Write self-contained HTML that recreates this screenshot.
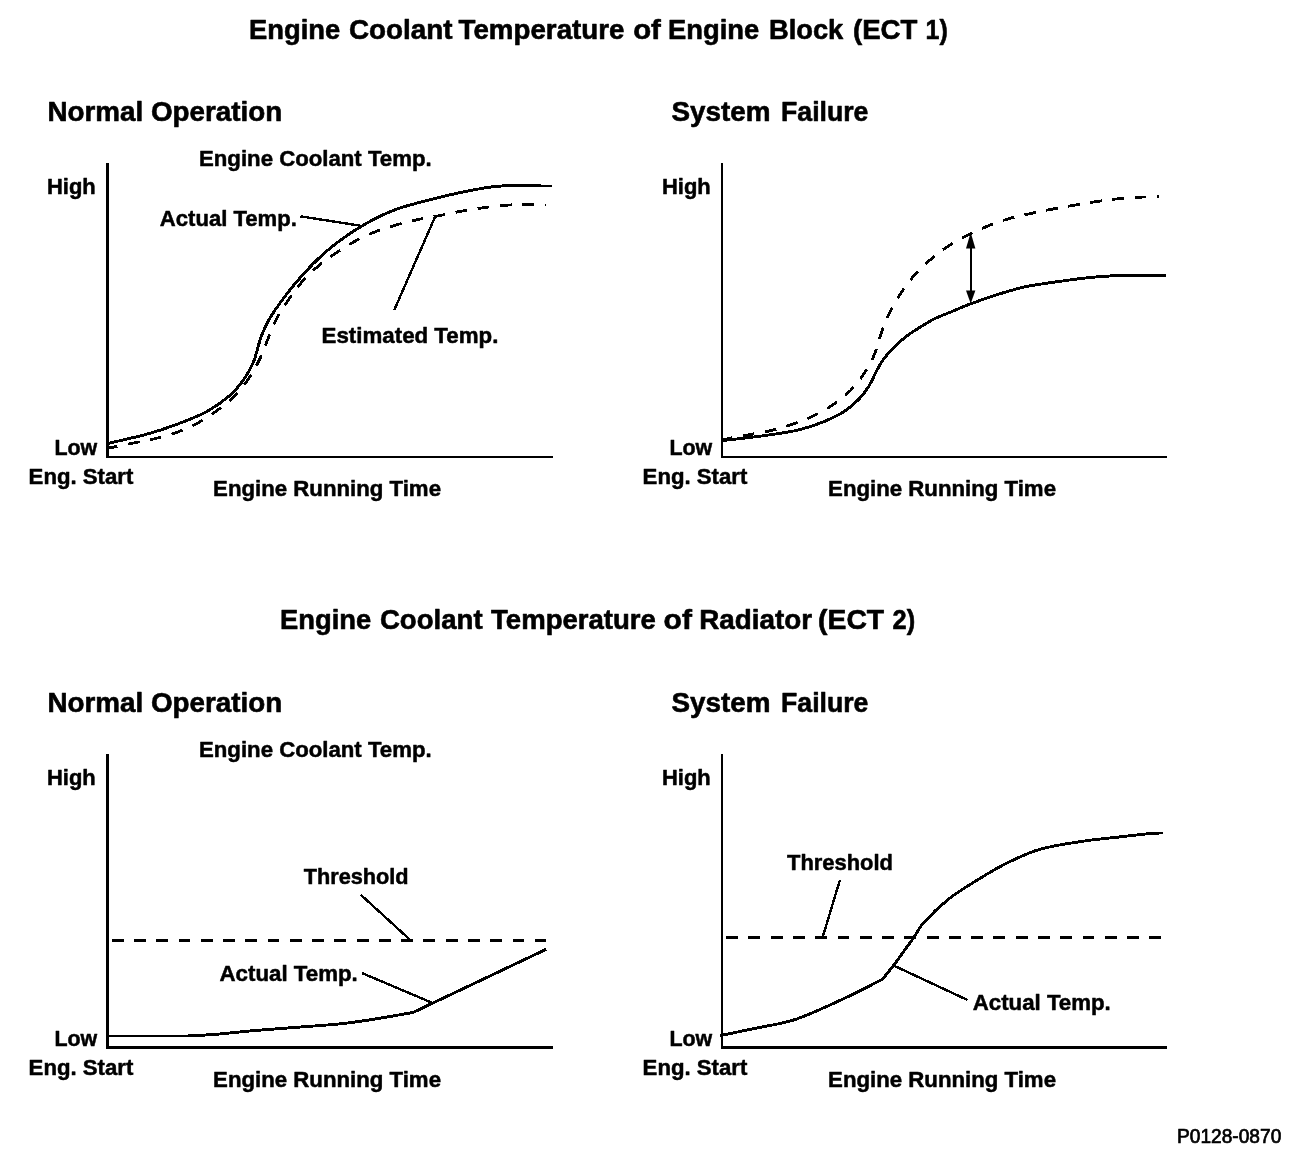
<!DOCTYPE html>
<html lang="en"><head><meta charset="utf-8"><title>Engine Coolant Temperature</title>
<style>
html,body{margin:0;padding:0;background:#fff;}
svg{display:block;}
text{font-family:"Liberation Sans",Arial,Helvetica,sans-serif;font-weight:bold;fill:#000;stroke:#000;stroke-width:0.5;stroke-linejoin:round;}
.t,.h{font-size:27px;stroke-width:0.6;}
.l{font-size:22px;}
.code{font-size:20px;font-weight:normal;stroke-width:0.7;}
.ax{stroke:#000;fill:none;shape-rendering:crispEdges;}
.cv{stroke:#000;fill:none;stroke-width:2.9;stroke-linejoin:round;shape-rendering:crispEdges;}
.dsh{stroke-width:2.8;}

.ld{stroke:#000;fill:none;stroke-width:2.4;shape-rendering:crispEdges;}
</style></head><body>
<svg width="1312" height="1156" viewBox="0 0 1312 1156">
<rect width="1312" height="1156" fill="#fff"/>
<text class="t"><tspan id="t0" x="249.0" y="38.5" textLength="91.2" lengthAdjust="spacingAndGlyphs">Engine</tspan> <tspan id="t1" x="349.0" y="38.5" textLength="103.5" lengthAdjust="spacingAndGlyphs">Coolant</tspan> <tspan id="t2" x="458.6" y="38.5" textLength="165.8" lengthAdjust="spacingAndGlyphs">Temperature</tspan> <tspan id="t3" x="633.2" y="38.5" textLength="27.7" lengthAdjust="spacingAndGlyphs">of</tspan> <tspan id="t4" x="668.0" y="38.5" textLength="91.2" lengthAdjust="spacingAndGlyphs">Engine</tspan> <tspan id="t5" x="769.0" y="38.5" textLength="74.3" lengthAdjust="spacingAndGlyphs">Block</tspan> <tspan id="t6" x="853.0" y="38.5" textLength="64.4" lengthAdjust="spacingAndGlyphs">(ECT</tspan> <tspan id="t7" x="925.6" y="38.5" textLength="22.2" lengthAdjust="spacingAndGlyphs">1)</tspan></text>
<text class="t"><tspan id="t8" x="280.0" y="629.1" textLength="91.2" lengthAdjust="spacingAndGlyphs">Engine</tspan> <tspan id="t9" x="379.9" y="629.1" textLength="102.7" lengthAdjust="spacingAndGlyphs">Coolant</tspan> <tspan id="t10" x="491.1" y="629.1" textLength="164.8" lengthAdjust="spacingAndGlyphs">Temperature</tspan> <tspan id="t11" x="663.6" y="629.1" textLength="28.3" lengthAdjust="spacingAndGlyphs">of</tspan> <tspan id="t12" x="699.2" y="629.1" textLength="112.9" lengthAdjust="spacingAndGlyphs">Radiator</tspan> <tspan id="t13" x="818.1" y="629.1" textLength="66.0" lengthAdjust="spacingAndGlyphs">(ECT</tspan> <tspan id="t14" x="892.6" y="629.1" textLength="22.6" lengthAdjust="spacingAndGlyphs">2)</tspan></text>
<text id="t15" x="47.4" y="121.2" class="h" textLength="234.8" lengthAdjust="spacingAndGlyphs">Normal Operation</text>
<text class="h"><tspan id="t16" x="671.5" y="121.2" textLength="99.1" lengthAdjust="spacingAndGlyphs">System</tspan> <tspan id="t17" x="781.1" y="121.2" textLength="87.3" lengthAdjust="spacingAndGlyphs">Failure</tspan></text>
<text id="t18" x="199.0" y="165.6" class="l" textLength="232.6" lengthAdjust="spacingAndGlyphs">Engine Coolant Temp.</text>
<text id="t19" x="47.0" y="193.7" class="l" textLength="48.7" lengthAdjust="spacingAndGlyphs">High</text>
<text id="t20" x="54.4" y="455.1" class="l" textLength="42.8" lengthAdjust="spacingAndGlyphs">Low</text>
<text id="t21" x="28.6" y="483.7" class="l" textLength="104.7" lengthAdjust="spacingAndGlyphs">Eng. Start</text>
<text id="t22" x="213.1" y="496.1" class="l" textLength="227.9" lengthAdjust="spacingAndGlyphs">Engine Running Time</text>
<text id="t23" x="662.0" y="193.7" class="l" textLength="48.7" lengthAdjust="spacingAndGlyphs">High</text>
<text id="t24" x="669.4" y="455.1" class="l" textLength="42.8" lengthAdjust="spacingAndGlyphs">Low</text>
<text id="t25" x="642.6" y="483.7" class="l" textLength="104.7" lengthAdjust="spacingAndGlyphs">Eng. Start</text>
<text id="t26" x="828.1" y="496.1" class="l" textLength="227.9" lengthAdjust="spacingAndGlyphs">Engine Running Time</text>
<text id="t27" x="47.4" y="712.2" class="h" textLength="234.8" lengthAdjust="spacingAndGlyphs">Normal Operation</text>
<text class="h"><tspan id="t28" x="671.5" y="712.2" textLength="99.1" lengthAdjust="spacingAndGlyphs">System</tspan> <tspan id="t29" x="781.1" y="712.2" textLength="87.3" lengthAdjust="spacingAndGlyphs">Failure</tspan></text>
<text id="t30" x="199.0" y="756.6" class="l" textLength="232.6" lengthAdjust="spacingAndGlyphs">Engine Coolant Temp.</text>
<text id="t31" x="47.0" y="784.7" class="l" textLength="48.7" lengthAdjust="spacingAndGlyphs">High</text>
<text id="t32" x="54.4" y="1046.1" class="l" textLength="42.8" lengthAdjust="spacingAndGlyphs">Low</text>
<text id="t33" x="28.6" y="1074.7" class="l" textLength="104.7" lengthAdjust="spacingAndGlyphs">Eng. Start</text>
<text id="t34" x="213.1" y="1087.1" class="l" textLength="227.9" lengthAdjust="spacingAndGlyphs">Engine Running Time</text>
<text id="t35" x="662.0" y="784.7" class="l" textLength="48.7" lengthAdjust="spacingAndGlyphs">High</text>
<text id="t36" x="669.4" y="1046.1" class="l" textLength="42.8" lengthAdjust="spacingAndGlyphs">Low</text>
<text id="t37" x="642.6" y="1074.7" class="l" textLength="104.7" lengthAdjust="spacingAndGlyphs">Eng. Start</text>
<text id="t38" x="828.1" y="1087.1" class="l" textLength="227.9" lengthAdjust="spacingAndGlyphs">Engine Running Time</text>
<text id="t39" x="159.8" y="225.5" class="l" textLength="137.1" lengthAdjust="spacingAndGlyphs">Actual Temp.</text>
<text id="t40" x="321.6" y="342.8" class="l" textLength="176.8" lengthAdjust="spacingAndGlyphs">Estimated Temp.</text>
<text id="t41" x="303.7" y="884.3" class="l" textLength="104.9" lengthAdjust="spacingAndGlyphs">Threshold</text>
<text id="t42" x="219.5" y="980.9" class="l" textLength="138.3" lengthAdjust="spacingAndGlyphs">Actual Temp.</text>
<text id="t43" x="787.0" y="869.9" class="l" textLength="105.9" lengthAdjust="spacingAndGlyphs">Threshold</text>
<text id="t44" x="972.7" y="1010.0" class="l" textLength="138.1" lengthAdjust="spacingAndGlyphs">Actual Temp.</text>
<text id="t45" x="1177.0" y="1142.6" class="code" textLength="104.3" lengthAdjust="spacingAndGlyphs">P0128-0870</text>
<path class="ax" stroke-width="3" d="M107.5 163V458"/>
<path class="ax" stroke-width="2" d="M106 457H552.5"/>
<path class="ax" stroke-width="2" d="M722 163V458"/>
<path class="ax" stroke-width="2" d="M721 457H1167"/>
<path class="ax" stroke-width="3" d="M107.5 754V1049"/>
<path class="ax" stroke-width="3" d="M106 1047.5H552.5"/>
<path class="ax" stroke-width="2" d="M722 754V1049"/>
<path class="ax" stroke-width="3" d="M721 1047.5H1167"/>
<path class="cv" d="M107.5 443.5 C113.9 442.0 134.2 437.6 145.7 434.5 C157.1 431.4 166.0 428.4 176.2 424.6 C186.4 420.8 197.8 416.4 206.7 411.6 C215.6 406.8 223.2 401.2 229.6 395.6 C235.9 390.0 240.7 383.9 244.8 378.0 C248.9 372.1 251.7 366.0 254.0 360.5 C256.3 355.0 256.9 350.3 258.5 345.2 C260.1 340.1 261.2 335.7 263.9 330.0 C266.5 324.3 268.6 319.4 274.4 311.0 C280.2 302.6 289.9 289.5 298.8 279.3 C307.7 269.1 317.4 258.9 328.0 250.0 C338.6 241.1 350.8 232.6 362.2 225.8 C373.6 219.0 382.5 214.3 396.3 209.3 C410.1 204.3 430.5 199.6 445.1 196.0 C459.7 192.4 474.3 189.7 484.1 188.0 C493.9 186.3 500.4 186.2 503.7 185.8 L552 186"/>
<path class="cv dsh" stroke-dasharray="11.8 10.55" stroke-dashoffset="1.5" d="M107.5 448.3 C112.0 447.4 126.2 444.5 134.3 442.8 C142.5 441.1 149.2 440.1 156.4 438.3 C163.6 436.5 170.7 434.6 177.7 432.0 C184.7 429.4 191.7 426.3 198.3 422.7 C204.9 419.1 211.4 414.6 217.4 410.2 C223.4 405.8 228.9 401.7 234.1 396.5 C239.3 391.3 244.4 384.9 248.6 378.8 C252.8 372.7 256.1 366.6 259.3 360.0 C262.5 353.4 264.6 346.8 267.7 339.5 C270.8 332.2 274.4 322.8 278.0 316.0 C281.6 309.2 285.2 304.5 289.0 299.0 C292.8 293.5 296.5 288.2 301.0 283.0 C305.5 277.8 310.7 272.7 316.0 268.0 C321.3 263.3 326.9 259.2 333.0 255.0 C339.1 250.8 345.9 246.4 352.4 242.7 C358.9 239.0 365.1 235.8 372.0 233.0 C378.9 230.2 386.7 227.8 394.0 225.6 C401.3 223.4 408.7 221.6 416.0 220.0 C423.3 218.4 430.5 217.3 437.8 215.9 C445.1 214.5 452.5 212.8 459.8 211.5 C467.1 210.2 474.4 209.0 481.7 208.0 C489.0 207.0 496.4 206.0 503.7 205.4 C511.0 204.8 518.6 204.6 525.6 204.5 C532.6 204.4 542.3 205.0 545.6 205.1"/>
<path class="ld" d="M300.5 216.3L364 226.3"/>
<path class="ld" d="M435 217L394.2 310.2"/>
<path class="cv" d="M722.0 440.6 C729.2 439.8 752.5 437.3 765.3 435.5 C778.1 433.7 789.0 432.2 798.8 429.9 C808.6 427.6 816.5 424.7 824.0 421.6 C831.5 418.5 838.2 415.3 844.1 411.5 C850.0 407.7 855.0 403.2 859.2 398.9 C863.4 394.6 866.5 390.0 869.3 385.5 C872.1 381.0 873.8 376.3 876.0 372.1 C878.2 367.9 879.9 364.3 882.7 360.4 C885.5 356.5 888.8 352.6 892.7 348.6 C896.6 344.6 901.4 340.2 906.1 336.5 C910.9 332.8 916.4 329.5 921.2 326.5 C926.0 323.5 929.9 321.1 935.0 318.6 C940.1 316.1 946.0 314.0 952.0 311.5 C958.0 309.0 963.1 306.6 970.7 303.8 C978.3 301.0 988.6 297.4 997.5 294.6 C1006.4 291.8 1014.1 289.2 1024.3 287.0 C1034.5 284.8 1047.4 283.1 1058.7 281.5 C1070.0 279.9 1081.7 278.3 1092.2 277.3 C1102.7 276.3 1116.7 275.6 1121.6 275.3 L1166 275.5"/>
<path class="cv dsh" stroke-dasharray="11.8 10.5" stroke-dashoffset="1" d="M722.0 440.0 C723.9 439.6 728.8 438.4 733.4 437.5 C738.0 436.6 743.3 435.8 749.7 434.6 C756.1 433.4 764.8 432.1 772.0 430.3 C779.2 428.5 786.0 426.3 793.0 423.9 C800.0 421.5 807.1 419.0 813.9 415.7 C820.6 412.4 827.4 408.5 833.5 404.3 C839.6 400.1 845.4 395.7 850.5 390.5 C855.6 385.3 860.2 379.3 864.2 373.3 C868.2 367.3 871.6 361.1 874.5 354.3 C877.4 347.5 879.0 339.4 881.5 332.5 C884.0 325.6 886.3 319.2 889.6 312.6 C892.9 306.0 897.0 299.2 901.1 293.0 C905.2 286.8 909.5 280.8 914.3 275.3 C919.1 269.8 924.5 264.8 930.0 260.0 C935.5 255.2 941.4 250.7 947.6 246.6 C953.8 242.5 960.6 238.8 967.3 235.4 C973.9 232.0 980.6 229.0 987.5 226.2 C994.4 223.4 1001.4 220.9 1008.5 218.8 C1015.6 216.7 1023.0 215.2 1030.2 213.6 C1037.5 212.0 1044.7 210.6 1052.0 209.2 C1059.3 207.8 1066.6 206.6 1073.9 205.3 C1081.2 204.1 1088.5 202.8 1095.8 201.7 C1103.1 200.6 1110.5 199.6 1117.8 198.8 C1125.1 198.1 1132.9 197.6 1139.8 197.2 C1146.7 196.8 1155.8 196.6 1159.0 196.5"/>
<path class="ld" d="M970.7 240V297"/>
<path d="M970.7 232.5L975.4 248.5H966Z" fill="#000"/>
<path d="M970.7 303.5L975.4 290.4H966Z" fill="#000"/>
<path class="cv" stroke-width="3.2" stroke-dasharray="11.9 10.37" d="M111.7 940.4H546.4"/>
<path class="cv" stroke-width="2.9" d="M107.5 1036 L187.0 1036.0 C191.6 1035.7 203.4 1035.3 214.8 1034.4 C226.2 1033.5 241.5 1031.7 255.4 1030.5 C269.3 1029.3 283.8 1028.3 298.0 1027.2 C312.2 1026.1 328.2 1025.1 340.7 1023.8 C353.1 1022.5 360.6 1021.3 372.7 1019.4 C384.8 1017.5 406.5 1013.6 413.3 1012.4 L432.5 1003.2 L450.0 994.9 L546.2 949.3"/>
<path class="ld" d="M360.7 894.7L410.3 940"/>
<path class="ld" d="M361.8 973L433.3 1003.3"/>
<path class="cv" stroke-width="3.2" stroke-dasharray="11.9 10.37" d="M726.2 937.5H1172.2"/>
<path class="cv" stroke-width="3" d="M720.0 1035.6 C725.9 1034.4 742.6 1031.0 755.2 1028.3 C767.8 1025.6 780.6 1024.4 795.5 1019.4 C810.4 1014.4 829.8 1005.1 844.3 998.4 C858.8 991.7 876.2 982.4 882.6 979.2 L894.0 964.9 C897.4 960.2 909.2 944.0 914.1 937.0 C919.0 930.0 917.8 929.2 923.4 923.0 C929.0 916.8 939.3 906.6 947.7 899.8 C956.1 893.0 964.4 888.1 973.8 882.2 C983.2 876.3 993.1 870.1 1004.0 864.6 C1014.9 859.1 1026.0 853.4 1039.3 849.5 C1052.6 845.6 1070.8 843.1 1083.8 841.1 C1096.8 839.1 1106.2 838.5 1117.4 837.2 C1128.6 835.9 1143.4 834.2 1150.9 833.5 C1158.4 832.8 1160.6 833.1 1162.6 833.0"/>
<path class="ld" d="M840 879.8L822.7 937"/>
<path class="ld" d="M894 965.7L967.5 1000"/>
</svg></body></html>
